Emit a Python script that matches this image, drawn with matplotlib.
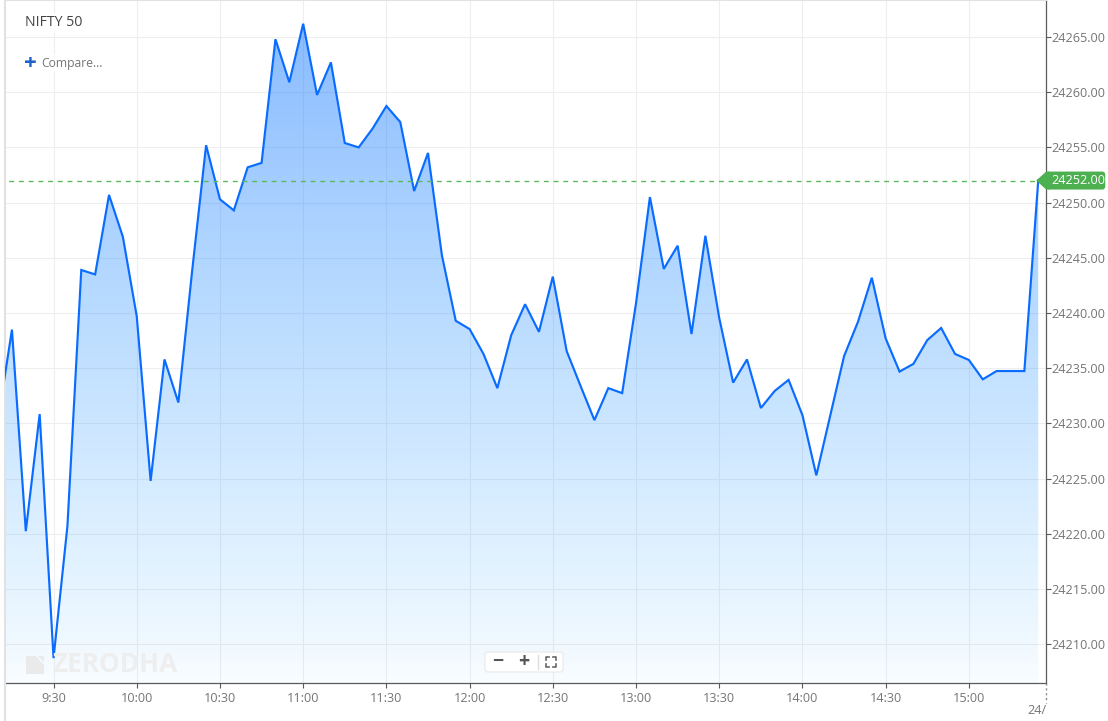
#!/usr/bin/env python3
# -*- coding: utf-8 -*-
"""NIFTY 50 intraday area chart, 5 minute closes."""
import numpy as np
import matplotlib
matplotlib.use("Agg")
import matplotlib.pyplot as plt
from matplotlib.lines import Line2D
from matplotlib.patches import FancyBboxPatch, Polygon
from matplotlib.ticker import FixedLocator, FuncFormatter

plt.rcParams["font.family"] = ["Open Sans", "DejaVu Sans"]

# minutes since midnight, first bar is 9:10 (clipped by the left edge)
start_minute = 550
step_minutes = 5
prices = [
    24230.3, 24238.5, 24220.25, 24230.85, 24208.75, 24220.7, 24243.9, 24243.5,
    24250.7, 24246.9, 24239.7, 24224.8, 24235.8, 24231.9, 24243.9, 24255.2,
    24250.3, 24249.3, 24253.2, 24253.6, 24264.8, 24260.9, 24266.2, 24259.75,
    24262.7, 24255.4, 24255.0, 24256.7, 24258.75, 24257.3, 24251.05, 24254.5,
    24245.25, 24239.3, 24238.55, 24236.3, 24233.2, 24238.0, 24240.8, 24238.3,
    24243.3, 24236.55, 24233.4, 24230.3, 24233.2, 24232.75, 24240.9, 24250.5,
    24244.0, 24246.1, 24238.1, 24247.0, 24239.55, 24233.7, 24235.8, 24231.4,
    24232.95, 24233.95, 24230.75, 24225.3, 24230.7, 24236.1, 24239.2, 24243.2,
    24237.7, 24234.7, 24235.4, 24237.55, 24238.65, 24236.3, 24235.75, 24234.0,
    24234.75, 24234.75, 24234.75, 24252.0,
]
last_price = 24252.0
y_ticks = [24210, 24215, 24220, 24225, 24230, 24235, 24240, 24245, 24250, 24255, 24260, 24265]
x_tick_minutes = [570, 600, 630, 660, 690, 720, 750, 780, 810, 840, 870, 900]
x_tick_labels = ["9:30", "10:00", "10:30", "11:00", "11:30", "12:00", "12:30",
                 "13:00", "13:30", "14:00", "14:30", "15:00"]

WIDTH, HEIGHT = 1108, 721
LEFT, RIGHT, TOP, BOTTOM = 5, 1046, 0, 683
LINE = "#0a6cff"
GREEN = "#4caf50"
DASH = "#5cb85c"
GRID = "#eeeeee"
AXIS = "#5a5a5a"
TEXT = "#757575"


def fx(px):
    return px / WIDTH


def fy(py):
    return 1 - py / HEIGHT


minutes = start_minute + step_minutes * np.arange(len(prices))

fig = plt.figure(figsize=(WIDTH / 100, HEIGHT / 100), dpi=100, facecolor="white")
ax = fig.add_axes([fx(LEFT), fy(BOTTOM), fx(RIGHT - LEFT), (BOTTOM - TOP) / HEIGHT])
ax.set_facecolor("white")

# gradient area under the line, drifts from strong blue to pale sky blue
rows = 256
t = np.linspace(0, 1, rows)
grad = np.zeros((rows, 1, 4))
grad[:, 0, 0] = 90 * t / 255
grad[:, 0, 1] = (107 + 83 * t) / 255
grad[:, 0, 2] = 1.0
grad[:, 0, 3] = 0.03 + 0.45 * (1 - t) ** 0.7
area = Polygon(np.column_stack([
    np.r_[minutes[0], minutes, minutes[-1]],
    np.r_[24100, prices, 24100],
]), closed=True, transform=ax.transData, facecolor="none", edgecolor="none")
ax.add_patch(area)
img = ax.imshow(grad, extent=(0, 1, 0, 1), transform=ax.transAxes, aspect="auto", zorder=2)
img.set_clip_path(area)

ax.plot(minutes, prices, color=LINE, lw=1.55, zorder=3, solid_joinstyle="miter")
ax.plot([minutes[0], minutes[-1]], [last_price, last_price], color=DASH, lw=1.0,
        ls=(0, (3.5, 3.5)), zorder=3)

ax.set_xlim(552.5, 927.8)
ax.set_ylim(24206.5, 24268.35)

ax.yaxis.tick_right()
ax.yaxis.set_major_locator(FixedLocator(y_ticks))
ax.yaxis.set_major_formatter(FuncFormatter(lambda v, _: f"{v:.2f}"))
ax.xaxis.set_major_locator(FixedLocator(x_tick_minutes))
ax.set_xticklabels(x_tick_labels)
ax.tick_params(axis="y", length=3.6, width=0.8, color=AXIS, labelcolor=TEXT, labelsize=9.1, pad=0.5)
ax.tick_params(axis="x", length=3.6, width=0.8, color=AXIS, labelcolor=TEXT, labelsize=9.1, pad=3)
for lbl in ax.get_yticklabels():
    lbl.set_verticalalignment("center_baseline")
ax.grid(True, color=GRID, lw=0.8)
ax.set_axisbelow(True)
for side in ("right", "bottom"):
    ax.spines[side].set_color(AXIS)
    ax.spines[side].set_linewidth(0.9)
for side in ("left", "top"):
    ax.spines[side].set_color("#e2e2e2")
    ax.spines[side].set_linewidth(1.5)

# left page edge carries on below the axis
fig.add_artist(Line2D([fx(LEFT)] * 2, [0, fy(BOTTOM)], color="#e2e2e2", lw=1.5))

# last price tag
tip_x, tip_y = ax.transData.transform((minutes[-1], last_price))
tag_h = 9
body = FancyBboxPatch((tip_x + 8, tip_y - tag_h), 59, 2 * tag_h,
                      boxstyle="round,pad=0,rounding_size=3", transform=None,
                      facecolor=GREEN, edgecolor="none", zorder=6, clip_on=False)
notch = Polygon([(tip_x - 2, tip_y), (tip_x + 8, tip_y + tag_h), (tip_x + 11, tip_y + tag_h),
                 (tip_x + 11, tip_y - tag_h), (tip_x + 8, tip_y - tag_h)],
                closed=True, transform=None, facecolor=GREEN, edgecolor="none", zorder=6, clip_on=False)
fig.add_artist(body)
fig.add_artist(notch)
fig.text(fx(tip_x + 13), tip_y / HEIGHT, f"{last_price:.2f}", color="white", fontsize=9.1,
         va="center", ha="left", zorder=7)

# header
fig.text(fx(25), fy(23), "NIFTY 50", color="#444444", fontsize=10.2, va="center", ha="left", zorder=7,
         bbox=dict(facecolor="white", edgecolor="none", pad=2))
fig.text(fx(24), fy(63.5), "+", color="#1c62c9", fontsize=16, fontweight="bold", va="center", ha="left", zorder=7)
fig.text(fx(41), fy(63), "Compare...", color=TEXT, fontsize=8.7, va="center", ha="left", zorder=7,
         bbox=dict(facecolor="white", edgecolor="none", pad=1))

# watermark
fig.add_artist(Polygon([(fx(26), fy(674)), (fx(26), fy(656)), (fx(36), fy(656)), (fx(44), fy(665)), (fx(44), fy(674))],
                       closed=True, facecolor="#eaeaea", edgecolor="none", zorder=4))
fig.add_artist(Polygon([(fx(38), fy(656)), (fx(44), fy(656)), (fx(44), fy(662))],
                       closed=True, facecolor="#eaeaea", edgecolor="none", zorder=4))
fig.text(fx(52), fy(665), "ZERODHA", color="#eeeeee", fontsize=18.8, fontweight="bold", va="center", ha="left", zorder=4)

# zoom controls
fig.add_artist(FancyBboxPatch((485, HEIGHT - 672), 78, 20, boxstyle="round,pad=0,rounding_size=3", transform=None,
                              facecolor="white", edgecolor="#e8e8e8", lw=0.8, zorder=5))
fig.text(fx(498), fy(662), "\u2212", color="#555555", fontsize=14, fontweight="bold", va="center", ha="center", zorder=6)
fig.text(fx(524), fy(662), "+", color="#555555", fontsize=14, fontweight="bold", va="center", ha="center", zorder=6)
fig.add_artist(Line2D([fx(538)] * 2, [fy(655), fy(669)], color="#dddddd", lw=1, zorder=6))
# fullscreen icon, four corners
for cx, cy, dx, dy in [(546, 657, 1, 1), (556, 657, -1, 1), (546, 667, 1, -1), (556, 667, -1, -1)]:
    fig.add_artist(Line2D([fx(cx + 3 * dx), fx(cx), fx(cx)], [fy(cy), fy(cy), fy(cy + 3 * dy)],
                          color="#666666", lw=1.2, zorder=6))

# next day marker below the right edge
fig.add_artist(Line2D([fx(RIGHT)] * 2, [fy(BOTTOM), fy(703)], color="#888888", lw=1, ls=(0, (1.5, 2))))
fig.text(fx(RIGHT), fy(711), "24/", color=TEXT, fontsize=9.1, va="center", ha="right")

fig.savefig("out.png", dpi=100)
